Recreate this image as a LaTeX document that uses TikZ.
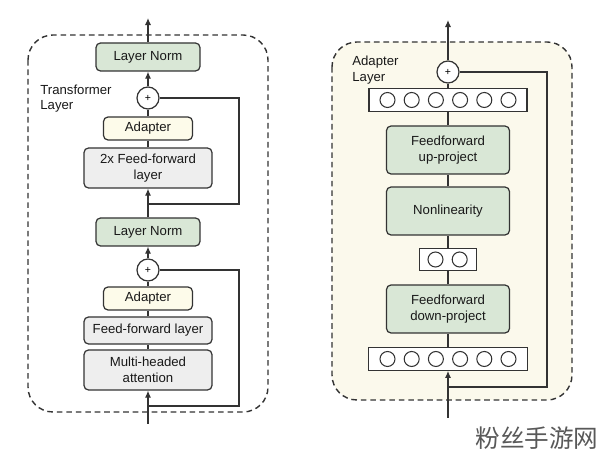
\documentclass[tikz,border=0pt]{standalone}
\usepackage{fontspec}
\setmainfont{Liberation Sans}
\newfontfamily\cjkfont{Noto Sans CJK SC}
\usetikzlibrary{arrows.meta}
\definecolor{edgegray}{HTML}{333333}
\definecolor{normgreen}{HTML}{D9E7D6}
\definecolor{adaptyellow}{HTML}{FDFBEA}
\definecolor{ffgray}{HTML}{EEEEEE}
\definecolor{panelcream}{HTML}{FBF9EC}
\tikzset{
	box/.style={draw=edgegray, line width=0.7pt, rounded corners=0.9mm, align=center, inner sep=0pt, text=black!90, font=\fontsize{7.5}{8.8}\selectfont},
	normbox/.style={box, fill=normgreen, minimum width=2.08cm, minimum height=0.56cm},
	adbox/.style={box, fill=adaptyellow, minimum width=1.78cm, minimum height=0.46cm},
	ffbox/.style={box, fill=ffgray, minimum width=2.56cm, minimum height=#1},
	projbox/.style={box, fill=normgreen, minimum width=2.46cm, minimum height=0.96cm},
	addnode/.style={circle, draw=edgegray, line width=0.7pt, fill=white, minimum size=0.44cm, inner sep=0pt, font=\fontsize{6}{6}\selectfont},
	unitbar/.style={draw=edgegray, line width=0.7pt, fill=white, minimum height=0.45cm, minimum width=#1, inner sep=0pt},
	neuron/.style={circle, draw=edgegray, line width=0.6pt, minimum size=0.3cm, inner sep=0pt},
	flow/.style={edgegray, line width=0.7pt},
	arr/.style={flow, -{Latex[length=4pt,width=3.5pt]}},
	layerframe/.style={draw=edgegray, line width=0.8pt, dash pattern=on 3.2pt off 2.2pt, rounded corners=0.5cm},
	tag/.style={anchor=north west, align=left, inner sep=0pt, text=black!90, font=\fontsize{7.5}{8.6}\selectfont}
}
\begin{document}
\begin{tikzpicture}[x=0.02cm, y=-0.02cm]
	\useasboundingbox (0,0) rectangle (600,455);

	% transformer layer
	\draw[layerframe] (28,35) rectangle (268,412);
	\node[tag] (tlabel) at (40,85) {Transformer\\Layer};

	\node[normbox] (ln2) at (148,57) {Layer Norm};
	\node[addnode] (add2) at (148,98) {+};
	\node[adbox] (ad2) at (148,128.5) {Adapter};
	\node[ffbox=0.8cm] (ff2) at (148,168) {2x Feed-forward\\layer};
	\node[normbox] (ln1) at (148,232) {Layer Norm};
	\node[addnode] (add1) at (148,270) {+};
	\node[adbox] (ad1) at (148,298.5) {Adapter};
	\node[ffbox=0.54cm] (ff1) at (148,330.5) {Feed-forward layer};
	\node[ffbox=0.8cm] (mha) at (148,370) {Multi-headed\\attention};

	\coordinate (in1) at (148,424);
	\coordinate (br1) at (148,406);
	\coordinate (br2) at (148,204);
	\coordinate (out1) at (148,18);

	\draw[arr] (in1) -- (mha);
	\draw[flow] (mha) -- (ff1);
	\draw[flow] (ff1) -- (ad1);
	\draw[flow] (ad1) -- (add1);
	\draw[arr] (add1) -- (ln1);
	\draw[arr] (ln1) -- (ff2);
	\draw[flow] (ff2) -- (ad2);
	\draw[flow] (ad2) -- (add2);
	\draw[arr] (add2) -- (ln2);
	\draw[arr] (ln2) -- (out1);
	\draw[flow] (br1) -- ++(91,0) |- (add1);
	\draw[flow] (br2) -- ++(91,0) |- (add2);

	% adapter layer
	\draw[layerframe, fill=panelcream] (332,42) rectangle (572,400);
	\node[tag] (alabel) at (352,56) {Adapter\\Layer};

	\node[addnode] (add3) at (448,72) {+};
	\node[unitbar=3.16cm] (upbar) at (448,100) {};
	\foreach \i in {0,...,5}
		\node[neuron] (u\i) at (387.5+24.2*\i,100) {};
	\node[projbox] (up) at (448,150) {Feedforward\\up-project};
	\node[projbox] (nonlin) at (448,211) {Nonlinearity};
	\node[unitbar=1.14cm] (midbar) at (448,259.5) {};
	\foreach \i in {0,1}
		\node[neuron] (m\i) at (435.5+24.2*\i,259.5) {};
	\node[projbox] (down) at (448,309) {Feedforward\\down-project};
	\node[unitbar=3.18cm] (lowbar) at (448,359) {};
	\foreach \i in {0,...,5}
		\node[neuron] (l\i) at (387.5+24.2*\i,359) {};

	\coordinate (in2) at (448,418);
	\coordinate (br3) at (448,387);
	\coordinate (out2) at (448,20);

	\draw[arr] (in2) -- (lowbar);
	\draw[flow] (lowbar) -- (down);
	\draw[flow] (down) -- (midbar);
	\draw[flow] (midbar) -- (nonlin);
	\draw[flow] (nonlin) -- (up);
	\draw[flow] (up) -- (upbar);
	\draw[flow] (upbar) -- (add3);
	\draw[arr] (add3) -- (out2);
	\draw[flow] (br3) -- ++(99,0) |- (add3);

	\node[font=\cjkfont\fontsize{14}{14}\selectfont, text=black!65] (mark) at (537,438) {粉丝手游网};
\end{tikzpicture}
\end{document}
